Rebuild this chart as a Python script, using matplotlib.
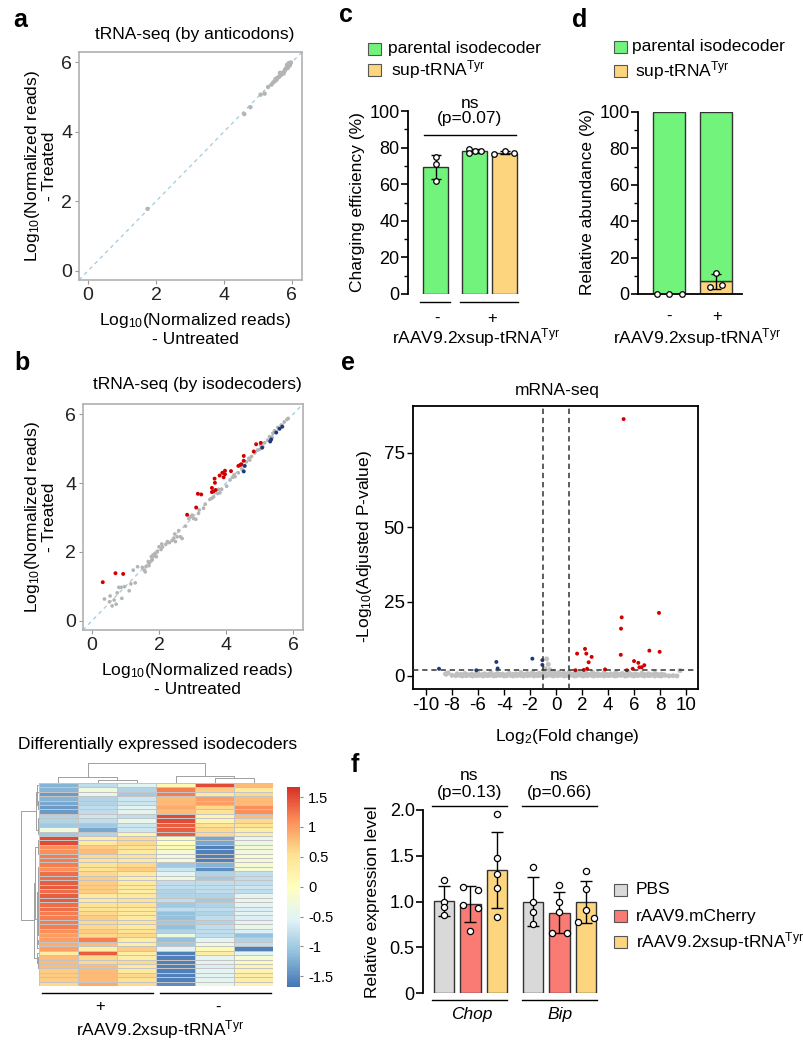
import numpy as np
import matplotlib
matplotlib.use('Agg')
import matplotlib.pyplot as plt
from matplotlib.patches import Rectangle
from matplotlib.colors import LinearSegmentedColormap

plt.rcParams['font.family'] = ['Liberation Sans', 'DejaVu Sans']
plt.rcParams['mathtext.fontset'] = 'custom'
plt.rcParams['mathtext.rm'] = 'Liberation Sans'
plt.rcParams['mathtext.it'] = 'Liberation Sans:italic'
plt.rcParams['axes.unicode_minus'] = False
plt.rcParams['font.size'] = 12

# ---------------- data ----------------
# a: tRNA-seq by anticodon (log10 reads, untreated vs treated)
a_pts = np.array([
    (1.75, 1.78), (4.60, 4.51), (4.78, 4.71), (5.08, 5.07), (5.20, 5.10), (5.30, 5.29),
    (5.40, 5.36), (5.45, 5.42), (5.50, 5.46), (5.55, 5.50), (5.58, 5.56), (5.62, 5.58),
    (5.66, 5.62), (5.70, 5.66), (5.73, 5.70), (5.76, 5.68), (5.78, 5.74), (5.80, 5.79),
    (5.83, 5.82), (5.85, 5.86), (5.88, 5.84), (5.90, 5.90), (5.92, 5.94), (5.94, 5.91),
    (5.96, 5.97), (5.97, 6.00), (5.86, 5.93), (5.91, 5.98), (5.65, 5.70), (5.52, 5.52),
])

# b: tRNA-seq by isodecoder
b_gray = np.array([
    (0.37, 0.63), (0.54, 0.72), (0.52, 0.55), (0.60, 0.43), (0.72, 0.48), (0.66, 0.60),
    (0.80, 0.97), (0.87, 0.97), (0.75, 0.81), (0.89, 0.65), (0.97, 0.99), (1.11, 0.87),
    (1.16, 1.07), (1.29, 1.10), (1.36, 1.57), (1.23, 1.47), (1.56, 1.47), (1.61, 1.57),
    (1.59, 1.42), (1.68, 1.72), (1.72, 1.69), (1.77, 1.86), (1.80, 1.78), (1.85, 1.88),
    (1.88, 1.96), (1.92, 1.86), (1.78, 1.75), (2.00, 2.15), (2.08, 2.23), (2.06, 2.07),
    (2.25, 2.30), (2.31, 2.27), (2.39, 2.33), (2.44, 2.39), (2.47, 2.52), (2.54, 2.44),
    (2.59, 2.62), (2.64, 2.44), (2.69, 2.39), (2.79, 2.75), (2.94, 3.02), (2.99, 3.07),
    (3.03, 2.97), (3.18, 3.12), (3.33, 3.27), (3.38, 3.39), (3.52, 3.53), (3.58, 3.56),
    (3.63, 3.60), (3.75, 3.70), (3.78, 3.82), (3.87, 3.82), (4.02, 3.91), (4.12, 4.09),
    (4.20, 4.17), (4.24, 4.24), (4.37, 4.30), (4.48, 4.40), (4.61, 4.62), (4.68, 4.72),
    (4.76, 4.77), (4.86, 4.88), (4.94, 4.96), (5.00, 4.98), (5.10, 5.06), (5.15, 5.17),
    (5.25, 5.25), (5.30, 5.35), (5.40, 5.45), (5.45, 5.52), (5.55, 5.62), (5.65, 5.69),
    (5.74, 5.78), (5.82, 5.85), (5.86, 5.88), (1.82, 1.91), (2.10, 2.15), (2.49, 2.30),
    (2.89, 2.97), (3.20, 3.22), (3.82, 3.72), (4.27, 4.19), (4.71, 4.67), (5.03, 5.11),
    (5.38, 5.33), (1.95, 2.02), (2.20, 2.22), (1.70, 1.60), (1.50, 1.55), (3.10, 2.95),
])
b_up = np.array([
    (0.32, 1.12), (0.70, 1.38), (0.93, 1.36), (2.84, 3.08), (3.11, 3.29), (3.16, 3.69),
    (3.26, 3.67), (3.58, 3.86), (3.66, 4.13), (3.67, 4.01), (3.63, 3.76), (3.69, 3.80),
    (3.58, 3.74), (3.81, 4.22), (3.89, 4.30), (3.97, 4.36), (3.97, 4.26), (3.93, 4.17),
    (4.15, 4.35), (4.37, 4.50), (4.43, 4.53), (4.46, 4.55), (4.53, 4.79), (4.53, 4.65),
    (4.83, 4.92), (4.90, 5.13), (5.04, 5.17),
])
b_down = np.array([
    (4.56, 4.50), (4.53, 4.34), (5.08, 5.03), (5.32, 5.21), (5.35, 5.27), (5.50, 5.47),
    (5.60, 5.58), (5.68, 5.64),
])

# heatmap: z-scored isodecoder levels, columns = 3 treated (+), 3 untreated (-)
hm_rows = [
    [-1.2, -0.8, -0.5, 0.1, 1.5, 0.8],
    [-1.2, -0.3, -0.9, 1.2, 0.7, 0.4],
    [-1.4, -0.4, -1.0, 1.2, 0.4, 0.6],
    [-1.2, -0.9, -0.7, 0.8, 1.0, 0.8],
    [-1.3, -0.9, -0.7, 0.8, 1.0, 0.8],
    [-1.4, -0.8, -0.5, 0.9, 0.6, 1.1],
    [-1.4, -0.8, -0.5, 0.8, 0.5, 1.1],
    [-0.9, -0.7, -0.8, 1.5, 0.2, 0.8],
    [-0.9, -0.8, -0.4, 1.5, 0.2, 0.6],
    [-1.0, -1.0, -0.7, 1.4, 0.5, 0.5],
    [-0.3, -1.3, -0.7, 1.4, 0.6, 0.3],
    [-1.0, -0.9, 0.2, 1.4, 0.6, 0.3],
    [1.5, 0.3, 0.6, 0.1, -1.3, -0.4],
    [1.5, 0.4, 0.6, 0.0, -1.3, -0.4],
    [1.1, 0.7, 0.5, 0.1, -1.6, -0.2],
    [1.1, 0.8, 0.4, -0.2, -1.6, -0.3],
    [1.2, 0.6, 0.5, -0.3, -1.6, -0.1],
    [1.2, 0.5, 0.4, -0.2, -1.6, -0.2],
    [1.2, 0.5, 0.6, -1.0, -1.2, -0.2],
    [1.1, 0.5, 0.7, -0.7, -1.5, -0.2],
    [1.3, 0.6, 0.4, -0.5, -0.9, -0.8],
    [1.3, 0.7, 0.3, -0.3, -1.0, -0.8],
    [1.4, 0.7, 0.4, -0.8, -0.8, -0.8],
    [1.4, 0.7, 0.4, -0.8, -0.8, -0.7],
    [1.3, 0.7, 0.3, -0.9, -0.8, -0.8],
    [1.4, 0.4, 0.4, -0.9, -0.9, -0.5],
    [1.4, 0.4, 0.5, -0.8, -1.0, -0.4],
    [1.3, 0.5, 0.5, -1.0, -0.9, -0.5],
    [1.3, 0.5, 0.4, -0.8, -0.8, -0.6],
    [1.2, 0.6, 0.4, -1.1, -0.9, -0.5],
    [1.2, 0.7, 0.4, -1.1, -0.8, -0.6],
    [1.2, 0.6, 0.5, -1.0, -0.9, -0.5],
    [1.2, 0.6, 0.4, -1.1, -0.8, -0.4],
    [1.1, 0.7, 0.5, -0.9, -0.8, -0.6],
    [1.0, 0.6, 0.6, -0.3, -0.8, -1.1],
    [1.0, 1.2, 0.3, -1.1, -0.5, -0.9],
    [0.9, 0.8, 0.3, -1.0, -0.3, -0.8],
    [1.0, 0.3, 0.7, -0.5, 0.1, -1.6],
    [0.3, 1.4, 0.3, -1.6, 0.3, -0.5],
    [0.8, 0.6, 0.3, -1.6, -0.5, -0.2],
    [0.8, 0.6, 0.6, -1.6, -0.5, 0.1],
    [0.8, 0.8, 0.4, -1.6, -0.6, 0.2],
    [0.7, 0.8, 0.4, -1.6, -0.5, 0.2],
    [0.7, 0.8, 0.6, -1.6, -0.5, 0.3],
    [0.7, 0.8, 0.5, -1.6, -0.5, 0.3],
    [0.6, 0.9, 0.6, -1.5, -0.4, 0.2],
]
cbar_ticks = [-1.5, -1, -0.5, 0, 0.5, 1, 1.5]
cbar_labels = ['-1.5', '-1', '-0.5', '0', '0.5', '1', '1.5']

# c: charging efficiency (%)
c_points = [[75.0, 71.0, 62.0], [79.5, 78.0, 78.2, 76.8], [76.3, 78.3, 77.2]]
c_jitter = [[0, 0, 0], [-0.2, 0.0, 0.22, -0.2], [-0.35, 0.0, 0.32]]

# d: relative abundance of sup-tRNA (%)
d_sup_points = [[0.0, 0.0, 0.0], [11.7, 4.0, 5.0]]
d_jitter = [[-0.25, 0.0, 0.29], [0.0, -0.12, 0.13]]

# e: volcano
volc_up_x = [5.2, 5.05, 7.92, 5.0, 4.98, 7.18, 7.97, 2.23, 1.62, 2.33, 2.74, 2.51, 2.39, 2.13,
             1.5, 3.77, 6.0, 6.33, 6.79, 6.59, 6.41, 5.9, 5.44]
volc_up_y = [86.4, 19.7, 21.2, 15.9, 7.1, 8.5, 8.1, 9.1, 7.5, 7.5, 6.4, 4.6, 2.4, 2.0,
             1.9, 2.2, 5.0, 4.4, 3.6, 2.9, 2.9, 2.4, 1.9]
volc_dn_x = [-9.0, -6.13, -4.59, -4.49, -1.82, -1.05, -1.05]
volc_dn_y = [2.4, 1.9, 4.7, 2.5, 5.8, 5.3, 3.7]
volc_gray = np.array([
    (-8.5, 0.7), (-8.3, 1.0), (-8.0, 0.2), (-7.7, 0.1), (-7.4, 0.2), (-7.2, 0.0), (-6.9, 0.1),
    (-6.6, 0.2), (-6.4, 0.0), (-6.1, 0.1), (-5.9, 0.2), (-5.6, 0.0), (-5.3, 0.1), (-5.1, 0.2),
    (-4.8, 0.0), (-4.6, 0.1), (-4.3, 0.2), (-4.0, 0.0), (-3.8, 0.1), (-3.5, 0.2), (-3.3, 0.0),
    (-3.0, 0.1), (-2.7, 0.2), (-2.5, 0.0), (-2.2, 0.1), (-2.0, 0.2), (-1.7, 0.0), (-1.4, 0.1),
    (-1.2, 0.2), (-0.9, 0.0), (-0.7, 0.1), (-0.4, 0.2), (-0.2, 0.0), (0.1, 0.1), (0.3, 0.2),
    (0.6, 0.0), (0.8, 0.1), (1.1, 0.2), (1.4, 0.0), (1.6, 0.1), (1.9, 0.2), (2.1, 0.0),
    (2.4, 0.1), (2.7, 0.2), (2.9, 0.0), (3.2, 0.1), (3.4, 0.2), (3.7, 0.0), (4.0, 0.1),
    (4.2, 0.2), (4.5, 0.0), (4.7, 0.1), (5.0, 0.2), (5.3, 0.0), (5.5, 0.1), (5.8, 0.2),
    (6.0, 0.0), (6.3, 0.1), (6.6, 0.2), (6.8, 0.0), (7.1, 0.1), (7.3, 0.2), (7.6, 0.0),
    (7.9, 0.1), (8.1, 0.0), (8.4, 0.2), (8.7, 0.0), (9.0, 0.1), (9.3, 0.0),
    (-7.6, 0.7), (-7.0, 0.8), (-6.5, 0.6), (-6.0, 0.9), (-5.5, 0.7), (-5.0, 1.0), (-4.5, 0.8),
    (-4.1, 0.6), (-3.6, 0.9), (-3.1, 0.7), (-2.7, 1.1), (-2.2, 0.8), (-1.8, 1.2), (-1.3, 0.9),
    (-0.9, 1.3), (-0.5, 1.0), (-0.2, 1.4), (0.2, 1.1), (0.6, 0.9), (1.0, 1.2), (1.4, 0.8),
    (1.8, 1.1), (2.3, 0.9), (2.8, 1.2), (3.2, 0.8), (3.7, 1.0), (4.2, 0.7), (4.6, 1.1),
    (5.1, 0.8), (5.6, 1.0), (6.1, 0.7), (6.6, 0.9), (7.1, 0.7), (7.6, 0.9), (8.1, 0.6),
    (-7.3, 0.5), (-6.8, 0.4), (-6.2, 0.5), (-5.7, 0.4), (-5.2, 0.5), (-4.7, 0.4), (-4.3, 0.5),
    (-3.8, 0.4), (-3.3, 0.5), (-2.9, 0.4), (-2.4, 0.5), (-2.0, 0.6), (-1.5, 0.5), (-1.1, 0.6),
    (-0.7, 0.5), (-0.3, 0.7), (0.0, 0.6), (0.4, 0.5), (0.8, 0.6), (1.2, 0.5), (1.6, 0.5),
    (2.0, 0.6), (2.5, 0.5), (3.0, 0.5), (3.5, 0.4), (3.9, 0.5), (4.4, 0.4), (4.9, 0.5),
    (5.3, 0.4), (5.8, 0.5), (6.3, 0.4), (6.8, 0.5), (7.3, 0.4), (7.8, 0.5), (8.3, 0.4),
    (-0.72, 5.7), (-0.6, 3.9), (-0.85, 2.5), (-0.5, 2.1), (9.54, 1.8), (-8.45, 0.6),
])
volc_fc_cut = 1
volc_p_cut = 2

# f: qPCR of ER-stress markers
f_genes = ['Chop', 'Bip']
f_groups = ['PBS', 'rAAV9.mCherry', r'rAAV9.2xsup-tRNA$^\mathregular{Tyr}$']
f_points = [
    [1.24, 1.00, 0.94, 0.85],
    [1.16, 1.13, 0.96, 0.93, 0.68],
    [1.96, 1.48, 1.30, 1.15, 0.83],
    [1.38, 0.99, 0.88, 0.75],
    [1.18, 0.99, 0.89, 0.66, 0.66],
    [1.33, 1.14, 0.91, 0.78, 0.82],
]
f_jitter = [
    [0, 0, 0, 0],
    [-0.28, 0.3, -0.28, 0.3, 0.0],
    [0, 0, 0, 0, 0],
    [0, 0, 0, 0],
    [0, 0, 0, -0.27, 0.3],
    [0, 0, 0, -0.29, 0.3],
]

GREEN = '#72f47c'
YELLOW = '#fdd57e'
F_COLORS = ['#d9d9d9', '#f97b73', '#fdd57e']
RED = '#d00000'
BLUE = '#1b3a7c'
GRAY = '#b4b4b4'
HM_CMAP = LinearSegmentedColormap.from_list(
    'rdylbu7', ['#4575B4', '#91BFDB', '#E0F3F8', '#FFFFBF', '#FEE090', '#FC8D59', '#D73027'])

W, H = 804, 1050
fig = plt.figure(figsize=(W / 100, H / 100), dpi=100)


def px_axes(l, t, r, b):
    return fig.add_axes([l / W, 1 - b / H, (r - l) / W, (b - t) / H])


ov = px_axes(0, 0, W, H)
ov.set_xlim(0, W)
ov.set_ylim(H, 0)
ov.axis('off')


def letter(x, y, s):
    ov.text(x, y, s, fontsize=18, fontweight='bold', ha='center', va='center')


def legend_box(x, y, color, label, tx):
    ov.add_patch(Rectangle((x, y - 6), 13, 12, facecolor=color, edgecolor='#555555', lw=0.8))
    ov.text(tx, y, label, fontsize=12.5, va='center', ha='left')


def mean_sd(v):
    v = np.asarray(v)
    return v.mean(), v.std(ddof=1)


def ordered_tree(mat):
    # agglomerative clustering of neighbouring leaves (keeps leaf order)
    groups = [[i] for i in range(len(mat))]
    pos = [i + 0.5 for i in range(len(mat))]
    hts = [0.0] * len(mat)
    segs = []
    while len(groups) > 1:
        d = []
        for k in range(len(groups) - 1):
            g1, g2 = groups[k], groups[k + 1]
            n1, n2 = len(g1), len(g2)
            dist = np.linalg.norm(mat[g1].mean(0) - mat[g2].mean(0))
            d.append(dist * np.sqrt(2 * n1 * n2 / (n1 + n2)))
        k = int(np.argmin(d))
        h = max(d[k], hts[k] * 1.05, hts[k + 1] * 1.05)
        segs.append((pos[k], hts[k], pos[k + 1], hts[k + 1], h))
        groups[k:k + 2] = [groups[k] + groups[k + 1]]
        pos[k:k + 2] = [(pos[k] + pos[k + 1]) / 2]
        hts[k:k + 2] = [h]
    return segs


# ---------------- a ----------------
def style_scatter(ax):
    ax.axline((0, 0), (1, 1), color='#9ecae1', lw=0.9, ls=(0, (3, 3)), zorder=1)
    ax.set_xlim(-0.27, 6.3)
    ax.set_ylim(-0.27, 6.3)
    ax.set_xticks([0, 2, 4, 6])
    ax.set_yticks([0, 2, 4, 6])
    for s in ax.spines.values():
        s.set_color('#b0b0b0')
        s.set_linewidth(1.2)
    ax.tick_params(length=3, color='#999999', labelsize=14, labelcolor='#222222', pad=2)


ax_a = px_axes(79, 52, 302, 280)
style_scatter(ax_a)
ax_a.scatter(a_pts[:, 0], a_pts[:, 1], s=10, color=GRAY, edgecolors='none', zorder=2)
letter(20, 20, 'a')
ov.text(195, 34, 'tRNA-seq (by anticodons)', fontsize=12.5, ha='center', va='center')
ov.text(195, 320, r'Log$_\mathregular{10}$(Normalized reads)', fontsize=12.5, ha='center', va='center')
ov.text(195, 340, '- Untreated', fontsize=12.5, ha='center', va='center')
ov.text(40, 166, 'Log$_\\mathregular{10}$(Normalized reads)\n- Treated', fontsize=12.5,
        rotation=90, ha='center', va='center', multialignment='center', linespacing=1.0)

# ---------------- b ----------------
ax_b = px_axes(83, 404, 303, 630)
style_scatter(ax_b)
ax_b.scatter(b_gray[:, 0], b_gray[:, 1], s=7, color=GRAY, edgecolors='none', zorder=2)
ax_b.scatter(b_up[:, 0], b_up[:, 1], s=8, color=RED, edgecolors='none', zorder=3)
ax_b.scatter(b_down[:, 0], b_down[:, 1], s=8, color=BLUE, edgecolors='none', zorder=3)
letter(22, 363, 'b')
ov.text(197, 385, 'tRNA-seq (by isodecoders)', fontsize=12.5, ha='center', va='center')
ov.text(197, 670, r'Log$_\mathregular{10}$(Normalized reads)', fontsize=12.5, ha='center', va='center')
ov.text(197, 690, '- Untreated', fontsize=12.5, ha='center', va='center')
ov.text(40, 517, 'Log$_\\mathregular{10}$(Normalized reads)\n- Treated', fontsize=12.5,
        rotation=90, ha='center', va='center', multialignment='center', linespacing=1.0)

# ---------------- heatmap ----------------
hm = np.array(hm_rows)
nr, nc = hm.shape
ax_h = px_axes(39, 783, 273, 986)
mesh = ax_h.pcolormesh(hm, cmap=HM_CMAP, vmin=-1.68, vmax=1.67,
                       edgecolors='#c4c4c4', linewidth=0.4)
ax_h.set_xlim(0, nc)
ax_h.set_ylim(nr, 0)
ax_h.axis('off')

ax_cd = px_axes(39, 762, 273, 783)
for x1, h1, x2, h2, h in ordered_tree(hm.T):
    ax_cd.plot([x1, x1, x2, x2], [h1, h, h, h2], color='#a0a0a0', lw=0.7)
ax_cd.set_xlim(0, nc)
ax_cd.set_ylim(0, None)
ax_cd.axis('off')

ax_rd = px_axes(21, 783, 39, 986)
row_segs = ordered_tree(hm)
for y1, h1, y2, h2, h in row_segs:
    ax_rd.plot([h1, h, h, h2], [y1, y1, y2, y2], color='#a0a0a0', lw=0.7)
ax_rd.set_xlim(max(s[4] for s in row_segs) * 1.02, 0)
ax_rd.set_ylim(nr, 0)
ax_rd.axis('off')

ax_cb = px_axes(287, 787, 300, 987)
cb = fig.colorbar(mesh, cax=ax_cb, ticks=cbar_ticks)
cb.ax.set_yticklabels(cbar_labels)
cb.outline.set_visible(False)
cb.ax.tick_params(labelsize=10.5, length=2, color='#888888', pad=4)

ov.text(158, 745, 'Differentially expressed isodecoders', fontsize=12.5, ha='center', va='center')
ov.plot([42, 153], [993, 993], color='black', lw=1)
ov.plot([160, 271], [993, 993], color='black', lw=1)
ov.text(100, 1007, '+', fontsize=12, ha='center', va='center')
ov.text(218, 1007, '-', fontsize=12, ha='center', va='center')
ov.text(160, 1030, r'rAAV9.2xsup-tRNA$^\mathregular{Tyr}$', fontsize=12.5, ha='center', va='center')


# ---------------- c ----------------
def style_bar_axis(ax, top, step, minor):
    ax.set_ylim(0, top)
    ax.set_yticks(np.arange(0, top + step / 2, step))
    if minor:
        ax.set_yticks(np.arange(0, top + minor / 2, minor), minor=True)
    for k in ['top', 'right', 'bottom']:
        ax.spines[k].set_visible(False)
    ax.spines['left'].set_linewidth(1.3)
    ax.tick_params(axis='y', which='major', length=5, width=1.2, labelsize=13, pad=1)
    ax.tick_params(axis='y', which='minor', length=3, width=1.0)
    ax.set_xticks([])
    ax.patch.set_alpha(0)


ax_c = px_axes(408, 111, 525, 294)
style_bar_axis(ax_c, 100, 20, 10)
ax_c.set_xlim(-0.92, 2.98)
c_pos = [0, 1.3, 2.3]
c_cols = [GREEN, GREEN, YELLOW]
for p, pts, jit, col in zip(c_pos, c_points, c_jitter, c_cols):
    m, sd = mean_sd(pts)
    ax_c.bar(p, m, width=0.83, color=col, edgecolor='#333333', lw=1, zorder=2)
    ax_c.errorbar(p, m, yerr=sd, color='black', lw=1, capsize=3.6, capthick=1, zorder=3)
    ax_c.scatter(np.array(jit) + p, pts, s=16, facecolor='white', edgecolor='black',
                 lw=0.9, zorder=4, clip_on=False)
letter(346, 15, 'c')
legend_box(368, 49, GREEN, 'parental isodecoder', 388)
legend_box(368, 70, YELLOW, r'sup-tRNA$^\mathregular{Tyr}$', 391)
ov.text(470, 103, 'ns', fontsize=12.5, ha='center', va='center')
ov.text(470, 119, '(p=0.07)', fontsize=12.5, ha='center', va='center')
ov.plot([424, 516], [135, 135], color='black', lw=1)
ov.plot([420, 450], [302, 302], color='black', lw=1)
ov.plot([460, 518], [302, 302], color='black', lw=1)
ov.text(437, 318, '-', fontsize=12, ha='center', va='center')
ov.text(492, 318, '+', fontsize=12, ha='center', va='center')
ov.text(476, 338, r'rAAV9.2xsup-tRNA$^\mathregular{Tyr}$', fontsize=12.5, ha='center', va='center')
ov.text(358, 202, 'Charging efficiency (%)', fontsize=12.5, rotation=90, ha='center', va='center')

# ---------------- d ----------------
ax_d = px_axes(638, 112, 742, 294)
style_bar_axis(ax_d, 100, 20, 10)
ax_d.spines['bottom'].set_visible(True)
ax_d.spines['bottom'].set_linewidth(1.3)
ax_d.set_xlim(-0.65, 1.56)
for p, pts, jit in zip([0, 1], d_sup_points, d_jitter):
    m, sd = mean_sd(pts)
    ax_d.bar(p, m, width=0.68, color=YELLOW, edgecolor='#333333', lw=1, zorder=2)
    ax_d.bar(p, 100 - m, bottom=m, width=0.68, color=GREEN, edgecolor='#333333', lw=1, zorder=2)
    if sd > 0:
        ax_d.errorbar(p, m, yerr=sd, color='black', lw=1, capsize=3.6, capthick=1, zorder=3)
    ax_d.scatter(np.array(jit) + p, pts, s=16, facecolor='white', edgecolor='black',
                 lw=0.9, zorder=4, clip_on=False)
letter(580, 20, 'd')
legend_box(614, 47, GREEN, 'parental isodecoder', 632)
legend_box(614, 71, YELLOW, r'sup-tRNA$^\mathregular{Tyr}$', 635)
ov.text(669, 316, '-', fontsize=12, ha='center', va='center')
ov.text(717, 316, '+', fontsize=12, ha='center', va='center')
ov.text(697, 338, r'rAAV9.2xsup-tRNA$^\mathregular{Tyr}$', fontsize=12.5, ha='center', va='center')
ov.text(588, 202, 'Relative abundance (%)', fontsize=12.5, rotation=90, ha='center', va='center')

# ---------------- e ----------------
ax_e = px_axes(413, 406, 698, 689)
ax_e.scatter(volc_gray[:, 0], volc_gray[:, 1], s=13, color='#c0c0c0', edgecolors='none', zorder=2)
ax_e.scatter(volc_dn_x, volc_dn_y, s=8, color=BLUE, edgecolors='none', zorder=3)
ax_e.scatter(volc_up_x, volc_up_y, s=8, color=RED, edgecolors='none', zorder=3)
ax_e.axvline(-volc_fc_cut, color='#333333', lw=1.1, ls=(0, (3.5, 2.5)), zorder=4)
ax_e.axvline(volc_fc_cut, color='#333333', lw=1.1, ls=(0, (3.5, 2.5)), zorder=4)
ax_e.axhline(volc_p_cut, color='#333333', lw=1.1, ls=(0, (3.5, 2.5)), zorder=4)
ax_e.set_xlim(-11, 10.92)
ax_e.set_ylim(-4.4, 90.8)
ax_e.set_xticks(range(-10, 11, 2))
ax_e.set_xticklabels([str(v) for v in range(-10, 11, 2)])
ax_e.set_yticks([0, 25, 50, 75])
for s in ax_e.spines.values():
    s.set_linewidth(1.3)
ax_e.tick_params(length=4, width=1, labelsize=13.5, pad=2)
letter(348, 363, 'e')
ov.text(557, 390, 'mRNA-seq', fontsize=12.5, ha='center', va='center')
ov.text(567, 737, r'Log$_\mathregular{2}$(Fold change)', fontsize=12.5, ha='center', va='center')
ov.text(365, 547, r'-Log$_\mathregular{10}$(Adjusted P-value)', fontsize=12.5, rotation=90,
        ha='center', va='center')

# ---------------- f ----------------
ax_f = px_axes(423, 810, 600, 993)
style_bar_axis(ax_f, 2.0, 0.5, None)
ax_f.set_yticklabels(['0', '0.5', '1.0', '1.5', '2.0'])
ax_f.set_xlim(-0.79, 5.89)
f_pos = [0, 1, 2, 3.36, 4.36, 5.36]
for i, (p, pts, jit) in enumerate(zip(f_pos, f_points, f_jitter)):
    m, sd = mean_sd(pts)
    ax_f.bar(p, m, width=0.77, color=F_COLORS[i % 3], edgecolor='#333333', lw=1, zorder=2)
    ax_f.errorbar(p, m, yerr=sd, color='black', lw=1, capsize=4.2, capthick=1, zorder=3)
    ax_f.scatter(np.array(jit) + p, pts, s=20, facecolor='white', edgecolor='black',
                 lw=0.9, zorder=4, clip_on=False)
letter(355, 765, 'f')
for x0, x1, pv in [(432, 507, '(p=0.13)'), (522, 597, '(p=0.66)')]:
    xc = (x0 + x1) / 2
    ov.text(xc, 775, 'ns', fontsize=12.5, ha='center', va='center')
    ov.text(xc, 792, pv, fontsize=12.5, ha='center', va='center')
    ov.plot([x0, x1], [806, 806], color='black', lw=1)
    ov.plot([x0, x1], [1000, 1000], color='black', lw=1)
ov.text(472, 1015, f_genes[0], fontsize=12.5, style='italic', ha='center', va='center')
ov.text(560, 1015, f_genes[1], fontsize=12.5, style='italic', ha='center', va='center')
for k, (lab, col) in enumerate(zip(f_groups, F_COLORS)):
    legend_box(614, 890 + 26 * k, col, lab, 636)
ov.text(373, 902, 'Relative expression level', fontsize=12.5, rotation=90, ha='center', va='center')

fig.savefig('out.png', dpi=100)
